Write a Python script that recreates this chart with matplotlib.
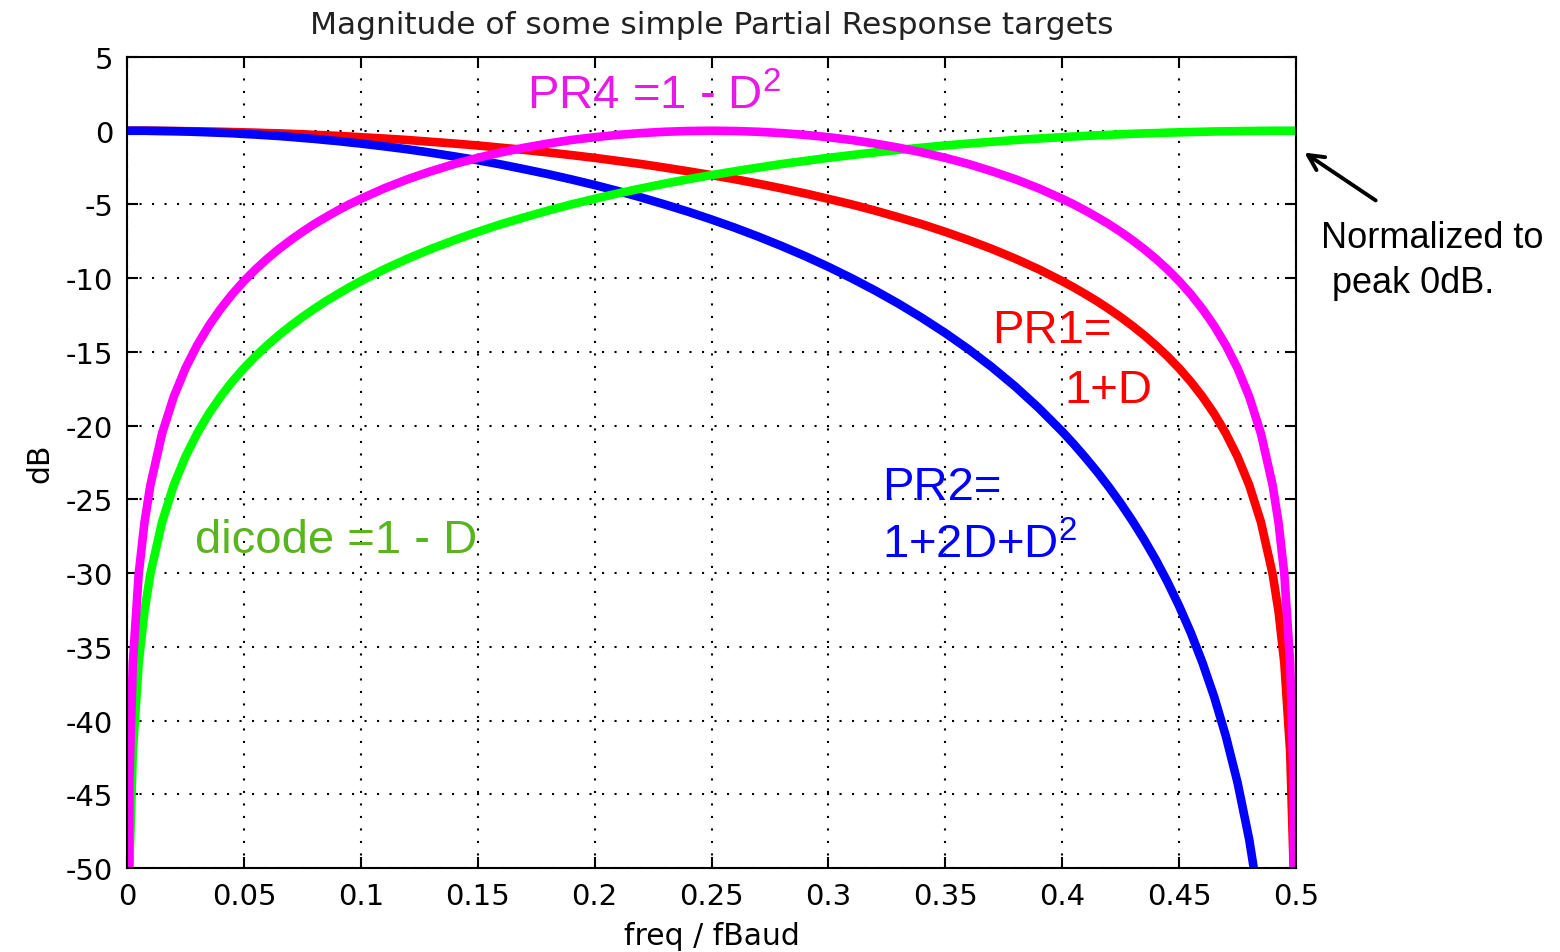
import numpy as np
import matplotlib.pyplot as plt
from matplotlib.patches import FancyArrowPatch

# values (dB, normalized to peak 0 dB)
freq = [0, 0.001, 0.0025, 0.005, 0.0075,
        0.01, 0.015, 0.02, 0.025, 0.03, 0.035, 0.04, 0.045, 0.05, 0.055,
        0.06, 0.065, 0.07, 0.075, 0.08, 0.085, 0.09, 0.095, 0.10,
        0.11, 0.12, 0.13, 0.14, 0.15, 0.16, 0.17, 0.18, 0.19, 0.20,
        0.21, 0.22, 0.23, 0.24, 0.25, 0.26, 0.27, 0.28, 0.29, 0.30,
        0.31, 0.32, 0.33, 0.34, 0.35, 0.36, 0.37, 0.38, 0.39,
        0.40, 0.405, 0.41, 0.415, 0.42, 0.425, 0.43, 0.435, 0.44, 0.445,
        0.45, 0.455, 0.46, 0.465, 0.47, 0.475, 0.48, 0.485, 0.49,
        0.4925, 0.495, 0.4975, 0.499, 0.5]

pr1 = [0, 0, 0, 0, 0,
       0, -0.01, -0.02, -0.03, -0.04, -0.05, -0.07, -0.09, -0.11, -0.13,
       -0.16, -0.18, -0.21, -0.24, -0.28, -0.31, -0.35, -0.39, -0.44,
       -0.53, -0.63, -0.75, -0.87, -1.00, -1.15, -1.30, -1.47, -1.65, -1.84,
       -2.05, -2.26, -2.50, -2.75, -3.01, -3.29, -3.59, -3.91, -4.25, -4.62,
       -5.00, -5.42, -5.87, -6.34, -6.86, -7.42, -8.02, -8.68, -9.40,
       -10.20, -10.63, -11.09, -11.57, -12.09, -12.64, -13.23, -13.86, -14.55, -15.29,
       -16.11, -17.02, -18.04, -19.19, -20.53, -22.11, -24.04, -26.54, -30.06,
       -32.56, -36.08, -42.10, -50.06, -120]

pr2 = [0, 0, 0, 0, 0,
       -0.01, -0.02, -0.03, -0.05, -0.08, -0.11, -0.14, -0.17, -0.22, -0.26,
       -0.31, -0.36, -0.42, -0.49, -0.55, -0.63, -0.70, -0.79, -0.87,
       -1.06, -1.26, -1.49, -1.74, -2.00, -2.29, -2.61, -2.94, -3.30, -3.68,
       -4.09, -4.53, -5.00, -5.49, -6.02, -6.58, -7.18, -7.82, -8.50, -9.23,
       -10.01, -10.84, -11.73, -12.69, -13.72, -14.83, -16.04, -17.36, -18.81,
       -20.40, -21.26, -22.18, -23.14, -24.17, -25.27, -26.45, -27.72, -29.09, -30.59,
       -32.23, -34.04, -36.08, -38.39, -41.06, -44.21, -48.08, -53.08, -60.12,
       -65.11, -72.16, -84.20, -100.11, -200]

dicode = [-120, -50.06, -42.10, -36.08, -32.56,
          -30.06, -26.54, -24.04, -22.11, -20.53, -19.19, -18.04, -17.02, -16.11, -15.29,
          -14.55, -13.86, -13.23, -12.64, -12.09, -11.57, -11.09, -10.63, -10.20,
          -9.40, -8.68, -8.02, -7.42, -6.86, -6.34, -5.87, -5.42, -5.00, -4.62,
          -4.25, -3.91, -3.59, -3.29, -3.01, -2.75, -2.50, -2.26, -2.05, -1.84,
          -1.65, -1.47, -1.30, -1.15, -1.00, -0.87, -0.75, -0.63, -0.53,
          -0.44, -0.39, -0.35, -0.31, -0.28, -0.24, -0.21, -0.18, -0.16, -0.13,
          -0.11, -0.09, -0.07, -0.05, -0.04, -0.03, -0.02, -0.01, 0,
          0, 0, 0, 0, 0]

pr4 = [-120, -44.04, -36.08, -30.06, -26.54,
       -24.04, -20.53, -18.04, -16.11, -14.55, -13.23, -12.09, -11.09, -10.20, -9.40,
       -8.68, -8.02, -7.42, -6.86, -6.34, -5.87, -5.42, -5.00, -4.62,
       -3.91, -3.29, -2.75, -2.26, -1.84, -1.47, -1.15, -0.87, -0.63, -0.44,
       -0.28, -0.16, -0.07, -0.02, 0, -0.02, -0.07, -0.16, -0.28, -0.44,
       -0.63, -0.87, -1.15, -1.47, -1.84, -2.26, -2.75, -3.29, -3.91,
       -4.62, -5.00, -5.42, -5.87, -6.34, -6.86, -7.42, -8.02, -8.68, -9.40,
       -10.20, -11.09, -12.09, -13.23, -14.55, -16.11, -18.04, -20.53, -24.04,
       -26.54, -30.06, -36.08, -44.04, -120]

xticks = [0, 0.05, 0.1, 0.15, 0.2, 0.25, 0.3, 0.35, 0.4, 0.45, 0.5]
xticklabels = ['0', '0.05', '0.1', '0.15', '0.2', '0.25', '0.3', '0.35', '0.4', '0.45', '0.5']
yticks = [5, 0, -5, -10, -15, -20, -25, -30, -35, -40, -45, -50]

plt.rcParams['font.family'] = ['DejaVu Sans']
plt.rcParams['axes.unicode_minus'] = False
W, H = 1560, 953

fig = plt.figure(figsize=(W / 100, H / 100), dpi=100)
ax = fig.add_axes([127 / W, 1 - 869 / H, (1296 - 127) / W, (869 - 58) / H])

lw = 6.2
ax.plot(freq, pr1, color='#ff0000', lw=lw)
ax.plot(freq, pr2, color='#0000ff', lw=lw)
ax.plot(freq, dicode, color='#00ff00', lw=lw)
ax.plot(freq, pr4, color='#ff00ff', lw=lw)

ax.set_xlim(0, 0.5)
ax.set_ylim(-50, 5)
ax.set_xticks(xticks)
ax.set_xticklabels(xticklabels)
ax.set_yticks(yticks)
ax.set_axisbelow(True)
ax.grid(True, color='k', linestyle=(0, (1, 5)), linewidth=1.5)
ax.tick_params(direction='in', top=True, right=True, length=8, width=1.5,
               labelsize=21, pad=10)
for s in ax.spines.values():
    s.set_linewidth(1.5)

ax.set_title('Magnitude of some simple Partial Response targets', fontsize=22.5,
             color='#222222', pad=17)
ax.set_xlabel('freq / fBaud', fontsize=21.5, labelpad=8)
ax.set_ylabel('dB', fontsize=21.5, labelpad=8)

# curve labels
lab = dict(family='Liberation Sans', fontsize=34, va='baseline', ha='left')
ax.text(0.171, 1.54, r'PR4 =1 - D$^{\mathregular{2}}$', color='#e619e6', **lab)
ax.text(0.370, -14.33, 'PR1=', color='#ff0000', **lab)
ax.text(0.401, -18.40, '1+D', color='#ff0000', **lab)
ax.text(0.323, -24.98, 'PR2=', color='#0000ff', **lab)
ax.text(0.323, -28.91, r'1+2D+D$^{\mathregular{2}}$', color='#0000ff', **lab)
ax.text(0.029, -28.57, 'dicode =1 - D', color='#5ab41e', **lab)

fig.text(1321 / W, 1 - 248 / H, 'Normalized to', family='Liberation Sans',
         fontsize=26, va='baseline', ha='left')
fig.text(1332 / W, 1 - 293 / H, 'peak 0dB.', family='Liberation Sans',
         fontsize=26, va='baseline', ha='left')
fig.add_artist(FancyArrowPatch(
    (1378 / W, 1 - 203 / H), (1302 / W, 1 - 152 / H), transform=fig.transFigure,
    arrowstyle='->', mutation_scale=28, lw=2.8, color='k'))

fig.savefig('out.png', dpi=100)
